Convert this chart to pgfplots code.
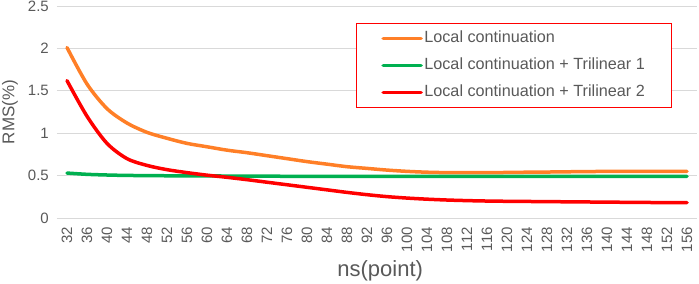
\documentclass[border=0pt]{standalone}
\usepackage{fontspec}
\setmainfont{Liberation Sans}
\usepackage{pgfplots}
\pgfplotsset{compat=1.18}
\definecolor{txt}{HTML}{595959}
\definecolor{gridc}{HTML}{D9D9D9}
\definecolor{corange}{HTML}{FF7F27}
\definecolor{cgreen}{HTML}{00B050}
\definecolor{cred}{HTML}{FF0000}
\begin{document}
\begin{tikzpicture}
\useasboundingbox (-57bp,-66bp) rectangle (642bp,218bp);
\begin{axis}[
  scale only axis,
  width=640bp, height=212bp,
  xmin=30, xmax=158, ymin=0, ymax=2.5,
  xtick={32,36,...,156},
  ytick={0,0.5,1,1.5,2,2.5},
  yticklabels={0,0.5,1,1.5,2,2.5},
  /pgf/number format/assume math mode=true,
  major tick length=0pt,
  axis line style={draw=none},
  ymajorgrids, grid style={gridc, line width=1bp},
  tick label style={font=\fontsize{15bp}{18bp}\selectfont, text=txt},
  xticklabel style={rotate=90, anchor=east, inner sep=0pt},
  xticklabel shift=9bp,
  yticklabel style={anchor=east, inner sep=0pt},
  yticklabel shift=8bp,
  xlabel={ns(point)},
  ylabel={RMS(\%)},
  label style={text=txt},
  xlabel style={font=\fontsize{22bp}{26bp}\selectfont, at={(axis description cs:0.505,-0.278)}, anchor=base},
  ylabel style={font=\fontsize{17bp}{20bp}\selectfont, at={(axis description cs:-0.0734,0.5)}, anchor=center, rotate=0},
  legend style={at={(axis description cs:0.467,0.92)}, anchor=north west, draw=cred, line width=1bp, fill=white,
    font=\fontsize{16.2bp}{19bp}\selectfont, text=txt, inner xsep=25bp, inner ysep=6bp,
    row sep=8.5bp,
    nodes={inner sep=1.5bp, text height=12bp, text depth=3.5bp}},
  legend cell align=left,
  legend image code/.code={\draw[#1] (0bp,0bp) -- (38bp,0bp);},
  every axis plot/.append style={line width=3.5bp, line cap=round, line join=round, smooth},
]
\addplot[corange] coordinates {
(32,2.01)(36,1.58)(40,1.29)(44,1.12)(48,1.01)(52,0.94)(56,0.88)(60,0.84)
(64,0.80)(68,0.77)(72,0.735)(76,0.70)(80,0.665)(84,0.635)(88,0.605)(92,0.585)
(96,0.565)(100,0.55)(104,0.54)(108,0.535)(112,0.535)(116,0.535)(120,0.537)(124,0.54)
(128,0.542)(132,0.545)(136,0.547)(140,0.55)(144,0.55)(148,0.55)(152,0.55)(156,0.55)};
\addlegendentry{Local continuation}
\addplot[cgreen] coordinates {
(32,0.53)(36,0.515)(40,0.507)(44,0.502)(48,0.50)(52,0.498)(56,0.497)(60,0.496)
(64,0.495)(68,0.494)(72,0.493)(76,0.492)(80,0.491)(84,0.49)(88,0.49)(92,0.49)
(96,0.49)(100,0.49)(104,0.49)(108,0.49)(112,0.49)(116,0.49)(120,0.49)(124,0.49)
(128,0.49)(132,0.49)(136,0.49)(140,0.49)(144,0.49)(148,0.49)(152,0.49)(156,0.49)};
\addlegendentry{Local continuation + Trilinear 1}
\addplot[cred] coordinates {
(32,1.62)(36,1.20)(40,0.88)(44,0.70)(48,0.62)(52,0.57)(56,0.535)(60,0.505)
(64,0.48)(68,0.452)(72,0.422)(76,0.392)(80,0.362)(84,0.332)(88,0.302)(92,0.275)
(96,0.252)(100,0.235)(104,0.222)(108,0.212)(112,0.205)(116,0.20)(120,0.197)(124,0.195)
(128,0.193)(132,0.191)(136,0.189)(140,0.187)(144,0.185)(148,0.183)(152,0.182)(156,0.18)};
\addlegendentry{Local continuation + Trilinear 2}
\end{axis}
\end{tikzpicture}
\end{document}
